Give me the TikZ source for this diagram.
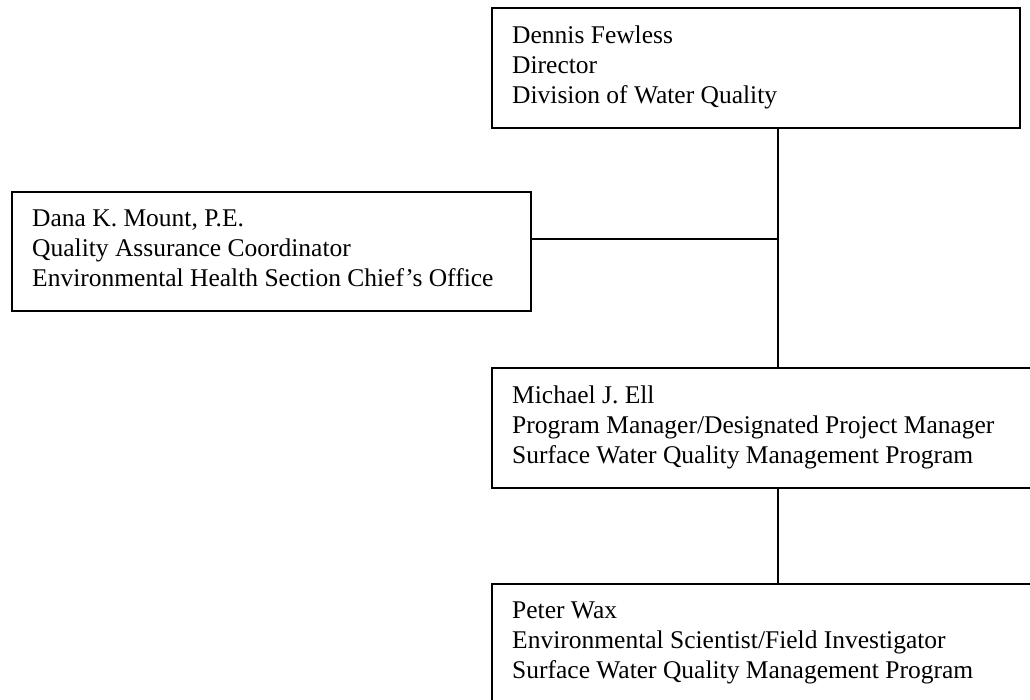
\documentclass[tikz,border=0pt]{standalone}
\usepackage{fontspec}
\setmainfont{Liberation Serif}
\begin{document}
\begin{tikzpicture}[x=1pt,y=-1pt,
  box/.style={draw=black,line width=2pt,fill=none,inner sep=0pt},
  label/.style={anchor=north west,inner sep=0pt,align=left,font=\fontsize{25.5}{30}\selectfont},
  conn/.style={draw=black,line width=2pt}]
\useasboundingbox (0,0) rectangle (1030,700);
\clip (0,0) rectangle (1030,700);
% boxes
\node[box,anchor=north west,minimum width=528pt,minimum height=120pt] (b1) at (491,7) {};
\node[box,anchor=north west,minimum width=519pt,minimum height=119pt] (b2) at (11,191) {};
\node[box,anchor=north west,minimum width=560pt,minimum height=120pt] (b3) at (491,367) {};
\node[box,anchor=north west,minimum width=560pt,minimum height=140pt] (b4) at (491,583) {};
% texts
\node[label] (t1) at ([shift={(21,19)}]b1.north west) {Dennis Fewless\\Director\\Division of Water Quality};
\node[label] (t2) at ([shift={(21,19)}]b2.north west) {Dana K. Mount, P.E.\\Quality Assurance Coordinator\\Environmental Health Section Chief’s Office};
\node[label] (t3) at ([shift={(21,19)}]b3.north west) {Michael J. Ell\\Program Manager/Designated Project Manager\\Surface Water Quality Management Program};
\node[label] (t4) at ([shift={(21,19)}]b4.north west) {Peter Wax\\Environmental Scientist/Field Investigator\\Surface Water Quality Management Program};
% connectors
\coordinate (j1) at (778,239);
\draw[conn] (b1.south -| j1) -- (b3.north -| j1);
\draw[conn] (b2.east |- j1) -- (j1);
\draw[conn] (b3.south -| j1) -- (b4.north -| j1);
\end{tikzpicture}
\end{document}
